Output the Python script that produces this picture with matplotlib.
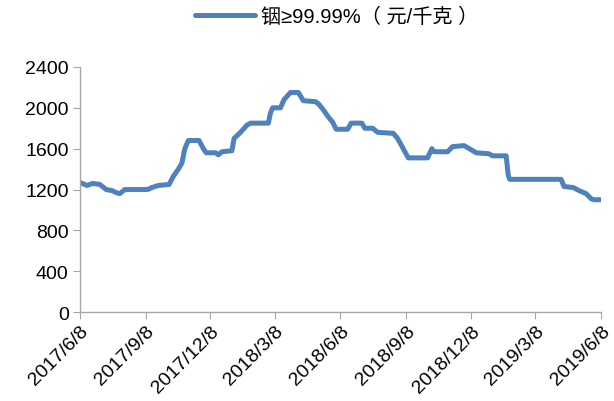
import matplotlib
matplotlib.use('Agg')
import matplotlib.pyplot as plt
import pandas as pd

plt.rcParams['font.family'] = ['Liberation Sans', 'Noto Sans CJK SC', 'DejaVu Sans']

# indium price, yuan/kg
dates = ['2017-06-08', '2017-06-18', '2017-06-26', '2017-07-06', '2017-07-15', '2017-07-23',
         '2017-07-29', '2017-08-03', '2017-08-10', '2017-09-11', '2017-09-17', '2017-09-26',
         '2017-10-11', '2017-10-17', '2017-10-24', '2017-10-29', '2017-11-02', '2017-11-07',
         '2017-11-22', '2017-11-28', '2017-12-02', '2017-12-15', '2017-12-19', '2017-12-24',
         '2018-01-07', '2018-01-10', '2018-01-19', '2018-01-28', '2018-02-02', '2018-02-27',
         '2018-03-02', '2018-03-05', '2018-03-16', '2018-03-21', '2018-03-30', '2018-04-10',
         '2018-04-17', '2018-05-04', '2018-05-08', '2018-05-14', '2018-05-21', '2018-05-28',
         '2018-06-02', '2018-06-18', '2018-06-23', '2018-07-08', '2018-07-12', '2018-07-23',
         '2018-07-30', '2018-08-21', '2018-08-27', '2018-08-31', '2018-09-07', '2018-09-11',
         '2018-10-08', '2018-10-14', '2018-10-17', '2018-11-05', '2018-11-12', '2018-11-28',
         '2018-12-08', '2018-12-15', '2019-01-02', '2019-01-07', '2019-01-26', '2019-01-29',
         '2019-01-31', '2019-04-13', '2019-04-17', '2019-04-30', '2019-05-08', '2019-05-18',
         '2019-05-25', '2019-05-29', '2019-06-08']
prices = [1270, 1240, 1260, 1250, 1200, 1190,
          1170, 1160, 1200, 1200, 1220, 1240,
          1250, 1330, 1400, 1460, 1600, 1680,
          1680, 1600, 1560, 1560, 1540, 1570,
          1580, 1700, 1760, 1830, 1850, 1850,
          1950, 2000, 2000, 2080, 2150, 2150,
          2070, 2060, 2040, 1990, 1920, 1860,
          1790, 1790, 1850, 1850, 1800, 1800,
          1760, 1750, 1700, 1650, 1560, 1510,
          1510, 1600, 1570, 1570, 1620, 1630,
          1590, 1560, 1550, 1530, 1530, 1340,
          1300, 1300, 1230, 1220, 1190, 1160,
          1110, 1100, 1100]
tick_dates = ['2017-06-08', '2017-09-08', '2017-12-08', '2018-03-08', '2018-06-08',
              '2018-09-08', '2018-12-08', '2019-03-08', '2019-06-08']
tick_labels = ['2017/6/8', '2017/9/8', '2017/12/8', '2018/3/8', '2018/6/8',
               '2018/9/8', '2018/12/8', '2019/3/8', '2019/6/8']
label = '铟≥99.99%（ 元/千克 ）'

x = pd.to_datetime(dates)
xt = pd.to_datetime(tick_dates)

fig = plt.figure(figsize=(6.14, 4.02), dpi=100)
ax = fig.add_axes([0.130, 0.221, 0.849, 0.610])
ax.plot(x, prices, color='#4F81BD', lw=3.6, solid_joinstyle='round',
        solid_capstyle='round', label=label)

ax.set_ylim(0, 2400)
ax.set_yticks(range(0, 2401, 400))
ax.set_xlim(xt[0], xt[-1])
ax.set_xticks(xt)
ax.set_xticklabels(tick_labels, rotation=45, ha='right', rotation_mode='anchor')

for s in ['top', 'right']:
    ax.spines[s].set_visible(False)
for s in ['left', 'bottom']:
    ax.spines[s].set_color('#A6A6A6')
    ax.spines[s].set_linewidth(1.0)
ax.tick_params(axis='both', colors='#A6A6A6', labelcolor='black', labelsize=14,
               length=5, direction='out')
ax.tick_params(axis='x', pad=2)
ax.tick_params(axis='y', pad=3)

fig.legend(loc='upper center', bbox_to_anchor=(0.548, 1.025), frameon=False,
           fontsize=14.5, handlelength=3.0, handletextpad=0.3)

plt.savefig('out.png', dpi=100)
